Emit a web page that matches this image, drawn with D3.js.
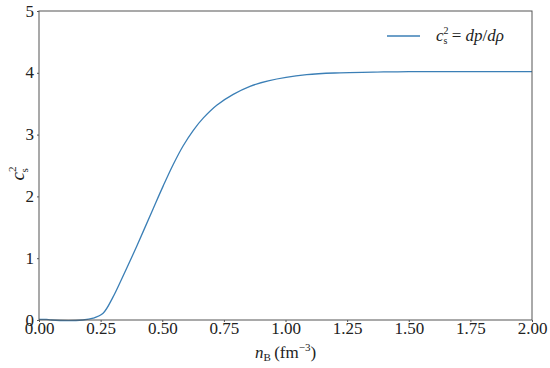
<!DOCTYPE html>
<html lang="en">
<head>
  <meta charset="UTF-8">
  <title>sound speed</title>
  <style>
    body { margin: 0; background: #fff; }
  </style>
</head>
<body>
  <div class="warp"></div>
  <script src="https://cdn.jsdelivr.net/npm/d3@7"></script>
  <script>
    // values
    var nB = [0, 0.03, 0.05, 0.178, 0.22, 0.26, 0.30, 0.335, 0.396, 0.464, 0.504, 0.545, 0.585, 0.626, 0.667, 0.721, 0.788, 0.856, 0.93, 1.086, 1.221, 1.355, 1.5, 1.75, 2.0];
    var cs2 = [0.01, 0.01, 0, 0, 0.03, 0.11, 0.37, 0.66, 1.19, 1.81, 2.17, 2.52, 2.82, 3.07, 3.27, 3.475, 3.65, 3.78, 3.87, 3.97, 4.00, 4.01, 4.02, 4.02, 4.02];
    var xTicks = [0, 0.25, 0.5, 0.75, 1.0, 1.25, 1.5, 1.75, 2.0];
    var yTicks = [0, 1, 2, 3, 4, 5];

    var serif = '"Liberation Serif", "DejaVu Serif", "Times New Roman", serif';
    var width = 550, height = 368;
    var margin = { left: 39, right: 18, top: 11, bottom: 48 };

    var svg = d3.select('.warp').append('svg')
      .attr('width', width)
      .attr('height', height);

    var x = d3.scaleLinear().domain([0, 2]).range([margin.left, width - margin.right]);
    var y = d3.scaleLinear().domain([0, 5]).range([height - margin.bottom, margin.top]);

    var pts = nB.map(function (d, i) { return [d, cs2[i]]; });

    var line = d3.line()
      .x(function (d) { return x(d[0]); })
      .y(function (d) { return y(d[1]); })
      .curve(d3.curveCatmullRom.alpha(0.5));

    svg.append('path')
      .datum(pts)
      .attr('fill', 'none')
      .attr('stroke', '#3b7fb6')
      .attr('stroke-width', 1.3)
      .attr('d', line);

    // axes
    var xAxis = svg.append('g')
      .attr('transform', 'translate(0,' + y(0) + ')')
      .call(d3.axisBottom(x).tickValues(xTicks).tickFormat(d3.format('.2f')).tickSize(2).tickPadding(1));
    var yAxis = svg.append('g')
      .attr('transform', 'translate(' + x(0) + ',0)')
      .call(d3.axisLeft(y).tickValues(yTicks).tickFormat(d3.format('d')).tickSize(2).tickPadding(3));
    [xAxis, yAxis].forEach(function (a) {
      a.select('.domain').remove();
      a.attr('font-family', serif).attr('font-size', 17);
      a.selectAll('.tick line').attr('stroke', '#555');
      a.selectAll('.tick text').attr('fill', '#222');
    });
    xAxis.selectAll('.tick text').attr('dy', '0.62em');
    yAxis.selectAll('.tick text').attr('dy', '0.3em');

    // frame
    svg.append('rect')
      .attr('x', x(0)).attr('y', y(5))
      .attr('width', x(2) - x(0)).attr('height', y(0) - y(5))
      .attr('fill', 'none')
      .attr('stroke', '#555')
      .attr('stroke-width', 1);

    // axis labels
    var xl = svg.append('text')
      .attr('font-family', serif).attr('fill', '#222')
      .attr('x', (x(0) + x(2)) / 2).attr('y', 358)
      .attr('text-anchor', 'middle').attr('font-size', 17);
    xl.append('tspan').attr('font-style', 'italic').text('n');
    xl.append('tspan').attr('dy', 3).attr('font-size', 11).text('B');
    xl.append('tspan').attr('dy', -3).text('\u2009(fm');
    xl.append('tspan').attr('dy', -7).attr('font-size', 11).text('\u22123');
    xl.append('tspan').attr('dy', 7).text(')');

    var yl = svg.append('text')
      .attr('font-family', serif).attr('fill', '#222')
      .attr('transform', 'translate(24,' + (y(2.5) + 8) + ') rotate(-90)')
      .attr('text-anchor', 'middle').attr('font-size', 19);
    yl.append('tspan').attr('font-style', 'italic').text('c');
    yl.append('tspan').attr('dy', -8).attr('font-size', 11).text('2');
    yl.append('tspan').attr('dx', -6).attr('dy', 12).attr('font-size', 11).text('s');

    // legend
    var lg = svg.append('g').attr('transform', 'translate(387,36)');
    lg.append('line').attr('x1', 0).attr('x2', 33).attr('y1', 0).attr('y2', 0)
      .attr('stroke', '#3b7fb6').attr('stroke-width', 1.3);
    var lt = lg.append('text')
      .attr('font-family', serif).attr('fill', '#222')
      .attr('x', 49).attr('y', 5).attr('font-size', 17);
    lt.append('tspan').attr('font-style', 'italic').text('c');
    lt.append('tspan').attr('dy', -7).attr('font-size', 10).text('2');
    lt.append('tspan').attr('dx', -5).attr('dy', 10).attr('font-size', 10).text('s');
    lt.append('tspan').attr('dy', -3).text(' = ');
    lt.append('tspan').attr('font-style', 'italic').text('dp');
    lt.append('tspan').text('/');
    lt.append('tspan').attr('font-style', 'italic').text('d\u03c1');
  </script>
</body>
</html>
